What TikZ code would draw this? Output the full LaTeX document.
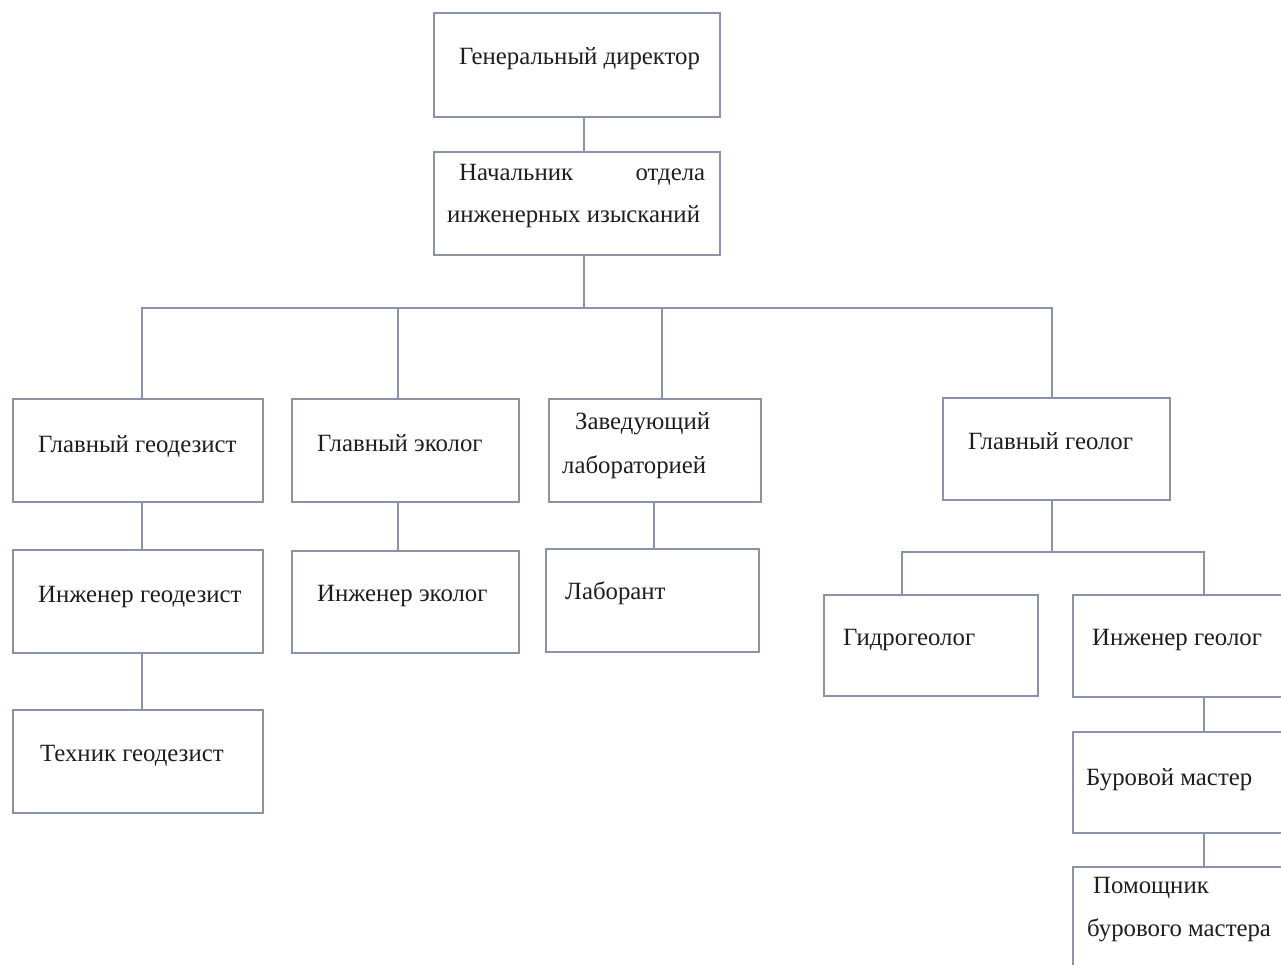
\documentclass[tikz,border=0pt]{standalone}
\usepackage{fontspec}
\setmainfont{Liberation Serif}
\definecolor{linec}{HTML}{8A93A8}
\definecolor{txtc}{HTML}{1E1E1E}
\begin{document}
\begin{tikzpicture}[x=1pt,y=-1pt,
  bx/.style={draw=linec, line width=2pt, rectangle, anchor=north west, inner sep=0pt, outer sep=0pt},
  tx/.style={anchor=base west, inner sep=0pt, text=txtc, font=\fontsize{24.8}{29}\selectfont},
  ln/.style={draw=linec, line width=2pt}]
\useasboundingbox (0,0) rectangle (1281,965);
\fill[white] (0,0) rectangle (1281,965);
\clip (0,0) rectangle (1281,965);
% boxes
\node[bx, minimum width=286pt, minimum height=104pt] (gd) at (434,13) {};
\node[bx, minimum width=286pt, minimum height=103pt] (nd) at (434,152) {};
\node[bx, minimum width=250pt, minimum height=103pt] (gg) at (13,399) {};
\node[bx, minimum width=227pt, minimum height=103pt] (ge) at (292,399) {};
\node[bx, minimum width=212pt, minimum height=103pt] (zl) at (549,399) {};
\node[bx, minimum width=227pt, minimum height=102pt] (ggl) at (943,398) {};
\node[bx, minimum width=250pt, minimum height=103pt] (ig) at (13,550) {};
\node[bx, minimum width=227pt, minimum height=102pt] (ie) at (292,551) {};
\node[bx, minimum width=213pt, minimum height=103pt] (lab) at (546,549) {};
\node[bx, minimum width=250pt, minimum height=103pt] (tg) at (13,710) {};
\node[bx, minimum width=214pt, minimum height=101pt] (hg) at (824,595) {};
\node[bx, minimum width=262pt, minimum height=102pt] (igl) at (1073,595) {};
\node[bx, minimum width=262pt, minimum height=101pt] (bm) at (1073,732) {};
\node[bx, minimum width=262pt, minimum height=104pt] (pm) at (1073,867) {};
% texts
\node[tx] (tgd) at (459,65) {Генеральный директор};
\node[tx] (tnd1) at (459,181) {\hbox to 246pt{Начальник\hfil отдела}};
\node[tx] (tnd2) at (447,223) {инженерных изысканий};
\node[tx] (tgg) at (38,452) {Главный геодезист};
\node[tx] (tge) at (317,451) {Главный эколог};
\node[tx] (tzl1) at (575,429) {Заведующий};
\node[tx] (tzl2) at (562,473) {лабораторией};
\node[tx] (tggl) at (968,449) {Главный геолог};
\node[tx] (tig) at (38,602) {Инженер геодезист};
\node[tx] (tie) at (317,601) {Инженер эколог};
\node[tx] (tlab) at (565,599) {Лаборант};
\node[tx] (ttg) at (40,761) {Техник геодезист};
\node[tx] (thg) at (843,645) {Гидрогеолог};
\node[tx] (tigl) at (1092,645) {Инженер геолог};
\node[tx] (tbm) at (1086,785) {Буровой мастер};
\node[tx] (tpm1) at (1093,893) {Помощник};
\node[tx] (tpm2) at (1087,936) {бурового мастера};
% connectors
\coordinate (bus) at (583.5,308);
\coordinate (gbus) at (1052,552);
\draw[ln] ([xshift=6.5pt]gd.south) -- ([xshift=6.5pt]nd.north);
\draw[ln] ([xshift=6.5pt]nd.south) -- (bus);
\draw[ln] ([xshift=4pt]gg.north) |- (bus);
\draw[ln] ([xshift=-7.5pt]ge.north) |- (bus);
\draw[ln] ([xshift=7pt]zl.north) |- (bus);
\draw[ln] ([xshift=-4.5pt]ggl.north) |- (bus);
\draw[ln] ([xshift=4pt]gg.south) -- ([xshift=4pt]ig.north);
\draw[ln] ([xshift=4pt]ig.south) -- ([xshift=4pt]tg.north);
\draw[ln] ([xshift=-7.5pt]ge.south) -- ([xshift=-7.5pt]ie.north);
\draw[ln] ([xshift=-1pt]zl.south) -- ([xshift=-1pt]zl.south |- lab.north);
\draw[ln] ([xshift=-4.5pt]ggl.south) -- (gbus);
\draw[ln] ([xshift=-29pt]hg.north) |- (gbus);
\draw[ln] (igl.north) |- (gbus);
\draw[ln] (igl.south) -- (bm.north);
\draw[ln] (bm.south) -- (pm.north);
\end{tikzpicture}
\end{document}
